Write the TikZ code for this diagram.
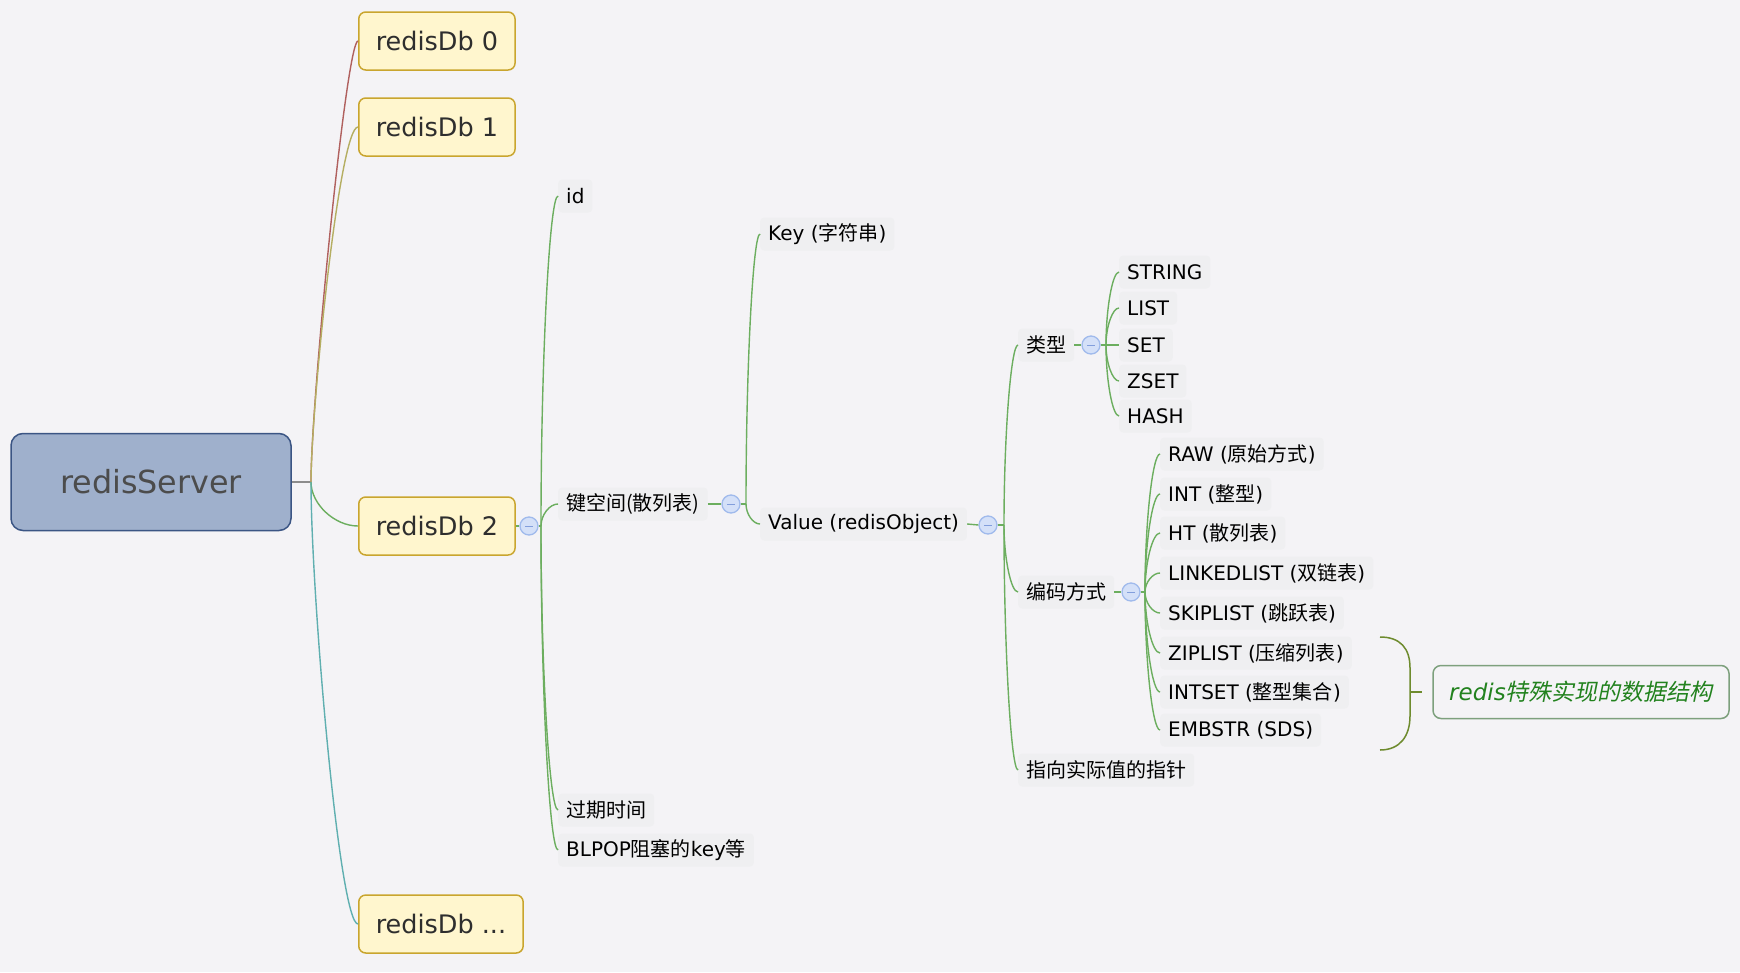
\documentclass[tikz,border=0pt]{standalone}
\usepackage{fontspec}
\setmainfont{DejaVu Sans}
\newfontfamily\zhfont{Noto Sans CJK SC}
\newfontfamily\zhslant[FakeSlant=0.2]{Noto Sans CJK SC}
\newcommand\zhtext[1]{{\zhfont #1}}
\usetikzlibrary{calc}

\definecolor{canvas}{RGB}{244,243,246}
\definecolor{labelbg}{RGB}{239,239,241}
\definecolor{rootfill}{RGB}{159,176,204}
\definecolor{rootline}{RGB}{59,85,132}
\definecolor{dbfill}{RGB}{255,246,206}
\definecolor{dbline}{RGB}{201,165,46}
\definecolor{hubgray}{RGB}{140,140,140}
\definecolor{dbred}{RGB}{176,96,94}
\definecolor{dbolive}{RGB}{181,174,98}
\definecolor{dbteal}{RGB}{95,175,176}
\definecolor{twiggreen}{RGB}{108,174,95}
\definecolor{foldfill}{RGB}{212,224,248}
\definecolor{foldline}{RGB}{160,186,236}
\definecolor{foldmark}{RGB}{130,158,220}
\definecolor{bracecol}{RGB}{110,139,46}
\definecolor{notegreen}{RGB}{34,130,30}
\definecolor{noteline}{RGB}{125,160,125}

\tikzset{
  topic/.style={anchor=west, fill=labelbg, rounded corners=4pt, inner xsep=8pt, inner ysep=0pt,
    minimum height=33pt, font=\fontsize{20}{24}\selectfont, text=black},
  dbbox/.style={anchor=west, draw=dbline, fill=dbfill, line width=1.5pt, rounded corners=7pt,
    inner xsep=17pt, minimum height=58pt, font=\fontsize{25.5}{30}\selectfont, text=black!82},
  fold/.style={circle, draw=foldline, fill=foldfill, line width=1.3pt, minimum size=18pt, inner sep=0pt,
    path picture={\draw[foldmark, line width=1pt] ([xshift=-4pt]path picture bounding box.center)
      -- ([xshift=4pt]path picture bounding box.center);}},
  twiglink/.style={draw=twiggreen, line width=1.4pt},
  twig/.style args={#1/#2}{to path={.. controls ($(\tikztostart)!#1!(\tikztostart|-\tikztotarget)$)
      and ($(\tikztostart|-\tikztotarget)!#2!(\tikztotarget)$) .. (\tikztotarget)}},
  twig/.default={.5/.5},
}

\begin{document}
\begin{tikzpicture}[x=1pt,y=-1pt]

\fill[canvas] (0,0) rectangle (1740,972);
\useasboundingbox (0,0) rectangle (1740,972);

% root and databases
\node[draw=rootline, fill=rootfill, line width=1.5pt, rounded corners=12pt, minimum width=280pt,
  minimum height=97pt, font=\fontsize{31.8}{36}\selectfont, text=black!70] (server) at (151,482) {redisServer};

\node[dbbox] (db0) at (358,41) {redisDb 0};
\node[dbbox] (db1) at (358,127) {redisDb 1};
\node[dbbox] (db2) at (358,526) {redisDb 2};
\node[dbbox] (dbn) at (358,924) {redisDb ...};

\coordinate (hub) at (311,482);
\draw[hubgray, line width=1.5pt] (server.east) -- (hub);
\draw[dbred, line width=1.4pt] (hub) to[twig=.18/.75] (db0.west);
\draw[dbolive, line width=1.4pt] (hub) to[twig=.2/.6] (db1.west);
\draw[twiggreen, line width=1.4pt] (hub) to[twig] (db2.west);
\draw[dbteal, line width=1.4pt] (hub) to[twig=.25/.6] (dbn.west);

% redisDb 2
\node[fold] (db2fold) at (529,526) {};
\coordinate (db2fork) at (541,526);
\draw[twiglink] (db2.east) -- (db2fold.west);
\draw[twiglink] (db2fold.east) -- (db2fork);

\node[topic] (dbid) at (558,196) {id};
\node[topic] (keyspace) at (558,504) {\zhtext{键空间(散列表)}};
\node[topic] (expire) at (558,810) {\zhtext{过期时间}};
\node[topic] (blpop) at (558,850) {BLPOP\zhtext{阻塞的}key\zhtext{等}};

\draw[twiglink] (db2fork) to[twig] (dbid.west);
\draw[twiglink] (db2fork) to[twig] (keyspace.west);
\draw[twiglink] (db2fork) to[twig] (expire.west);
\draw[twiglink] (db2fork) to[twig] (blpop.west);

% key space
\node[fold] (ksfold) at (731,504) {};
\coordinate (ksfork) at (746,504);
\draw[twiglink] (keyspace.east) -- (ksfold.west);
\draw[twiglink] (ksfold.east) -- (ksfork);

\node[topic] (key) at (760,234) {Key (\zhtext{字符串})};
\node[topic] (value) at (760,524) {Value (redisObject)};

\draw[twiglink] (ksfork) to[twig] (key.west);
\draw[twiglink] (ksfork) to[twig] (value.west);

% redisObject
\node[fold] (valfold) at (988,525) {};
\coordinate (valfork) at (1004,525);
\draw[twiglink] (value.east) -- (valfold.west);
\draw[twiglink] (valfold.east) -- (valfork);

\node[topic] (kind) at (1018,345) {\zhtext{类型}};
\node[topic] (enc) at (1018,592) {\zhtext{编码方式}};
\node[topic] (ptr) at (1018,770) {\zhtext{指向实际值的指针}};

\draw[twiglink] (valfork) to[twig] (kind.west);
\draw[twiglink] (valfork) to[twig] (enc.west);
\draw[twiglink] (valfork) to[twig] (ptr.west);

% types
\node[fold] (kindfold) at (1091,345) {};
\coordinate (kindfork) at (1106,345);
\draw[twiglink] (kind.east) -- (kindfold.west);
\draw[twiglink] (kindfold.east) -- (kindfork);

\node[topic] (tstring) at (1119,272) {STRING};
\node[topic] (tlist) at (1119,308) {LIST};
\node[topic] (tset) at (1119,345) {SET};
\node[topic] (tzset) at (1119,381) {ZSET};
\node[topic] (thash) at (1119,416) {HASH};

\draw[twiglink] (kindfork) to[twig] (tstring.west);
\draw[twiglink] (kindfork) to[twig] (tlist.west);
\draw[twiglink] (kindfork) to[twig] (tset.west);
\draw[twiglink] (kindfork) to[twig] (tzset.west);
\draw[twiglink] (kindfork) to[twig] (thash.west);

% encodings
\node[fold] (encfold) at (1131,592) {};
\coordinate (encfork) at (1145,592);
\draw[twiglink] (enc.east) -- (encfold.west);
\draw[twiglink] (encfold.east) -- (encfork);

\node[topic] (eraw) at (1160,454) {RAW (\zhtext{原始方式})};
\node[topic] (eint) at (1160,494) {INT (\zhtext{整型})};
\node[topic] (eht) at (1160,533) {HT (\zhtext{散列表})};
\node[topic] (elinked) at (1160,573) {LINKEDLIST (\zhtext{双链表})};
\node[topic] (eskip) at (1160,613) {SKIPLIST (\zhtext{跳跃表})};
\node[topic] (ezip) at (1160,653) {ZIPLIST (\zhtext{压缩列表})};
\node[topic] (eintset) at (1160,692) {INTSET (\zhtext{整型集合})};
\node[topic] (eembstr) at (1160,730) {EMBSTR (SDS)};

\draw[twiglink] (encfork) to[twig] (eraw.west);
\draw[twiglink] (encfork) to[twig] (eint.west);
\draw[twiglink] (encfork) to[twig] (eht.west);
\draw[twiglink] (encfork) to[twig] (elinked.west);
\draw[twiglink] (encfork) to[twig] (eskip.west);
\draw[twiglink] (encfork) to[twig] (ezip.west);
\draw[twiglink] (encfork) to[twig] (eintset.west);
\draw[twiglink] (encfork) to[twig] (eembstr.west);

% summary brace and note
\node[draw=noteline, line width=1.5pt, rounded corners=8pt, minimum width=296pt, minimum height=53pt,
  text=notegreen, font=\fontsize{23}{28}\selectfont] (note) at (1581,692)
  {\textit{redis}\zhslant 特殊实现的数据结构};

\coordinate (bracetip) at (1410,692);
\draw[bracecol, line width=1.5pt] (1380,637) .. controls (1400,637) and (1410,648) .. (1410,668)
  -- (1410,716) .. controls (1410,736) and (1400,750) .. (1380,750);
\draw[bracecol, line width=1.5pt] (bracetip) -- ([xshift=-10pt]note.west);

\end{tikzpicture}
\end{document}
